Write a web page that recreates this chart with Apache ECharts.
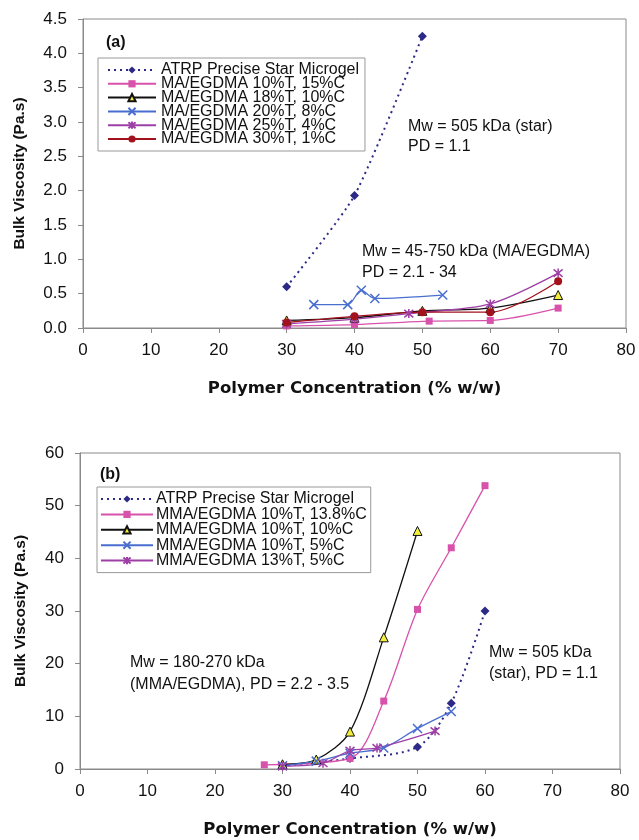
<!DOCTYPE html>
<html>
<head>
<meta charset="utf-8">
<script src="https://cdn.jsdelivr.net/npm/echarts@6/dist/echarts.min.js"></script>
<style>
html,body{margin:0;padding:0;background:#fff;}
#c{width:639px;height:840px;}
</style>
</head>
<body>
<div id="c"></div>
<script>
// ---------- data: panel (a) ----------
const namesA = [
  "ATRP Precise Star Microgel",
  "MA/EGDMA 10%T, 15%C",
  "MA/EGDMA 18%T, 10%C",
  "MA/EGDMA 20%T, 8%C",
  "MA/EGDMA 25%T, 4%C",
  "MA/EGDMA 30%T, 1%C"
];
const a_atrp   = [[30,0.6],[40,1.93],[50,4.25]];
const a_10_15  = [[30,0.03],[40,0.05],[51,0.10],[60,0.11],[70,0.29]];
const a_18_10  = [[30,0.11],[40,0.15],[50,0.25],[60,0.29],[70,0.48]];
const a_20_8   = [[34,0.34],[39,0.34],[41,0.55],[43,0.43],[53,0.48]];
const a_25_4   = [[30,0.06],[40,0.13],[48,0.21],[60,0.35],[70,0.80]];
const a_30_1   = [[30,0.08],[40,0.17],[50,0.23],[60,0.23],[70,0.68]];

// ---------- data: panel (b) ----------
const namesB = [
  "ATRP Precise Star Microgel",
  "MMA/EGDMA 10%T, 13.8%C",
  "MMA/EGDMA 10%T, 10%C",
  "MMA/EGDMA 10%T, 5%C",
  "MMA/EGDMA 13%T, 5%C"
];
const b_atrp    = [[30,0.6],[40,2.0],[50,4.2],[55,12.5],[60,30.0]];
const b_10_138  = [[27.3,0.8],[40,2.0],[45,12.9],[50,30.3],[55,42.0],[60,53.8]];
const b_10_10   = [[30,0.9],[35,1.8],[40,7.1],[45,25.0],[50,45.2]];
const b_10_5    = [[30,0.6],[35,1.5],[40,3.0],[45,4.0],[50,7.7],[55,10.9]];
const b_13_5    = [[30,0.5],[36,1.1],[40,3.5],[44,4.0],[52.6,7.2]];

// ticks
const xTicks = {min:0, max:80, interval:10};
const yTicksA = {min:0, max:4.5, interval:0.5};
const yTicksB = {min:0, max:60, interval:10};

// ---------- styles ----------
const FONT = "Liberation Sans, Arial, sans-serif";
const WIDE = "DejaVu Sans, Liberation Sans, sans-serif";
const C = {
  navy:'#2C2A86', pink:'#D852AC', black:'#111111', blue:'#4A6ED0',
  purple:'#9E3FA6', red:'#A3111C', yellow:'#F2EE3A'
};
const SYM_X = 'path://M0,0L10,10M10,0L0,10';
const SYM_STAR = 'path://M0,0L10,10M10,0L0,10M5,-1L5,11';

function mk(name, data, xi, color, symbol, size, opts) {
  opts = opts || {};
  return {
    type:'line', name, data, xAxisIndex:xi, yAxisIndex:xi,
    smooth: opts.smooth !== undefined ? opts.smooth : 0.3,
    symbol, symbolSize:size, showSymbol:true,
    lineStyle:{color: color, width: opts.lw || 1.3, type: opts.type || 'solid'},
    itemStyle: opts.item || {color: color, borderColor: color, borderWidth: opts.bw || 0},
    z: opts.z || 3,
    emphasis:{disabled:true}
  };
}

function xAxis(gi){
  return {
    type:'value', gridIndex:gi, ...xTicks,
    name:'Polymer Concentration (% w/w)', nameLocation:'middle', nameGap:52,
    nameTextStyle:{fontFamily:WIDE, fontSize:16.5, fontWeight:'bold', color:'#111'},
    axisLine:{show:true, onZero:false, lineStyle:{color:'#8a8a8a', width:1}},
    axisTick:{show:true, length:5, lineStyle:{color:'#8a8a8a'}},
    axisLabel:{fontFamily:FONT, fontSize:17, color:'#111', margin:14},
    splitLine:{show:false}
  };
}
function yAxis(gi, t, fmt, gap){
  return {
    type:'value', gridIndex:gi, ...t,
    name:'Bulk Viscosity (Pa.s)', nameLocation:'middle', nameGap:gap,
    nameTextStyle:{fontFamily:FONT, fontSize:15.5, fontWeight:'bold', color:'#111'},
    axisLine:{show:true, lineStyle:{color:'#8a8a8a', width:1}},
    axisTick:{show:true, length:5, lineStyle:{color:'#8a8a8a'}},
    axisLabel:{fontFamily:FONT, fontSize:17, color:'#111', margin:16, formatter:fmt},
    splitLine:{show:false}
  };
}

const chart = echarts.init(document.getElementById('c'), null, {renderer:'canvas'});
const txt = (x,y,s) => ({type:'text', left:x, top:y, style:{text:s, font:'bold 16px '+FONT, fill:'#111'}});
const note = (x,y,s) => ({type:'text', left:x, top:y, style:{text:s, font:'16px '+FONT, fill:'#111'}});

chart.setOption({
  animation:false,
  backgroundColor:'#fff',
  grid:[
    {left:83, top:19, width:543, height:309, show:true, borderColor:'#8a8a8a', borderWidth:1, backgroundColor:'#fff'},
    {left:80, top:453, width:540, height:316, show:true, borderColor:'#8a8a8a', borderWidth:1, backgroundColor:'#fff'}
  ],
  xAxis:[xAxis(0), xAxis(1)],
  yAxis:[yAxis(0, yTicksA, v=>v.toFixed(1), 55), yAxis(1, yTicksB, v=>String(v), 51)],
  legend:[
    {data:namesA, orient:'vertical', left:98, top:58, itemWidth:48, itemHeight:9, itemGap:-2.2,
     padding:[4,6,4,9], borderColor:'#999', borderWidth:1, backgroundColor:'#fff',
     textStyle:{fontFamily:FONT, fontSize:16, color:'#111', lineHeight:16}, selectedMode:false},
    {data:namesB, orient:'vertical', left:97, top:487, itemWidth:52, itemHeight:9, itemGap:-0.6,
     padding:[4,4,4,3], borderColor:'#999', borderWidth:1, backgroundColor:'#fff',
     textStyle:{fontFamily:FONT, fontSize:16, color:'#111', lineHeight:16, padding:[0,0,0,-2]}, selectedMode:false}
  ],
  graphic:[
    txt(106,35,'(a)'),
    txt(100,467,'(b)'),
    note(408,119,'Mw = 505 kDa (star)'),
    note(408,139,'PD = 1.1'),
    note(362,244,'Mw = 45-750 kDa (MA/EGDMA)'),
    note(362,265,'PD = 2.1 - 34'),
    note(130,655,'Mw = 180-270 kDa'),
    note(130,677,'(MMA/EGDMA), PD = 2.2 - 3.5'),
    note(489,645,'Mw = 505 kDa'),
    note(489,666,'(star), PD = 1.1')
  ],
  series:[
    mk(namesA[0], a_atrp, 0, C.navy, 'diamond', 9, {type:[2,4], lw:2, smooth:0.2}),
    mk(namesA[1], a_10_15, 0, C.pink, 'rect', 7),
    mk(namesA[2], a_18_10, 0, C.black, 'triangle', 9, {item:{color:C.yellow, borderColor:C.black, borderWidth:1}}),
    mk(namesA[3], a_20_8, 0, C.blue, SYM_X, 9, {bw:1.5}),
    mk(namesA[4], a_25_4, 0, C.purple, SYM_STAR, 9, {bw:1.5}),
    mk(namesA[5], a_30_1, 0, C.red, 'circle', 8),
    mk(namesB[0], b_atrp, 1, C.navy, 'diamond', 9, {type:[2,4], lw:2, smooth:0.3}),
    mk(namesB[1], b_10_138, 1, C.pink, 'rect', 7),
    mk(namesB[2], b_10_10, 1, C.black, 'triangle', 9, {item:{color:C.yellow, borderColor:C.black, borderWidth:1}}),
    mk(namesB[3], b_10_5, 1, C.blue, SYM_X, 9, {bw:1.5}),
    mk(namesB[4], b_13_5, 1, C.purple, SYM_STAR, 9, {bw:1.5})
  ]
});
</script>
</body>
</html>
